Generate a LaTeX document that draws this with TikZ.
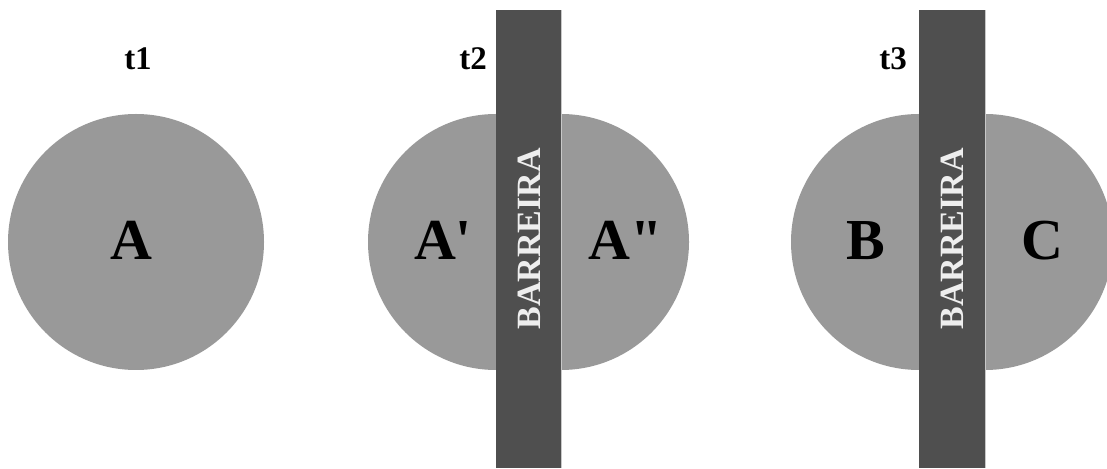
\documentclass[tikz,border=0pt]{standalone}
\usepackage{fontspec}
\setmainfont{Liberation Serif}
\newfontfamily\plainserif{Liberation Serif}
\definecolor{blob}{HTML}{999999}
\definecolor{bar}{HTML}{4F4F4F}
\definecolor{bartext}{HTML}{EEEEEE}
\definecolor{edge}{HTML}{C8C8C8}
\begin{document}
\begin{tikzpicture}[x=1pt,y=1pt,
  region/.style={fill=blob,draw=none},
  barrier/.style={fill=bar,draw=none},
  timelabel/.style={font=\bfseries\fontsize{33}{33}\selectfont,anchor=base,inner sep=0pt},
  biglabel/.style={font=\plainserif\bfseries\fontsize{58}{58}\selectfont,anchor=base,inner sep=0pt},
  bartxt/.style={font=\bfseries\fontsize{34}{34}\selectfont,text=bartext,rotate=90,inner sep=0pt}]
\useasboundingbox (0,0) rectangle (1107,468);
\fill[white] (0,0) rectangle (1107,468);
\begin{scope}
\clip (0,0) rectangle (1107,468);
% panel 1
\fill[region] (136,226) circle[radius=128];
% panel 2
\fill[region] (496,354) arc[start angle=90,end angle=270,radius=128] -- cycle;
\fill[region] (561,98) arc[start angle=-90,end angle=90,radius=128] -- cycle;
\fill[barrier] (496,0) rectangle (561,458);
\draw[edge,line width=0.8pt] (561,0) -- (561,458);
% panel 3
\fill[region] (919,354) arc[start angle=90,end angle=270,radius=128] -- cycle;
\fill[region] (985,98) arc[start angle=-90,end angle=90,radius=128] -- cycle;
\fill[barrier] (919,0) rectangle (985,458);
\draw[edge,line width=0.8pt] (985,0) -- (985,458);
\end{scope}
% labels
\node[timelabel] (t1) at (138,398) {t1};
\node[timelabel] (t2) at (473,398) {t2};
\node[timelabel] (t3) at (893,398) {t3};
\node[biglabel] (A) at (131,208) {A};
\node[biglabel] (A1) at (443,208) {A'};
\node[biglabel] (A2) at (626,208) {A"};
\node[biglabel] (B) at (866,208) {B};
\node[biglabel] (C) at (1042,208) {C};
\node[bartxt] (bar2) at (529.5,229) {BARREIRA};
\node[bartxt] (bar3) at (952,229) {BARREIRA};
\end{tikzpicture}
\end{document}
